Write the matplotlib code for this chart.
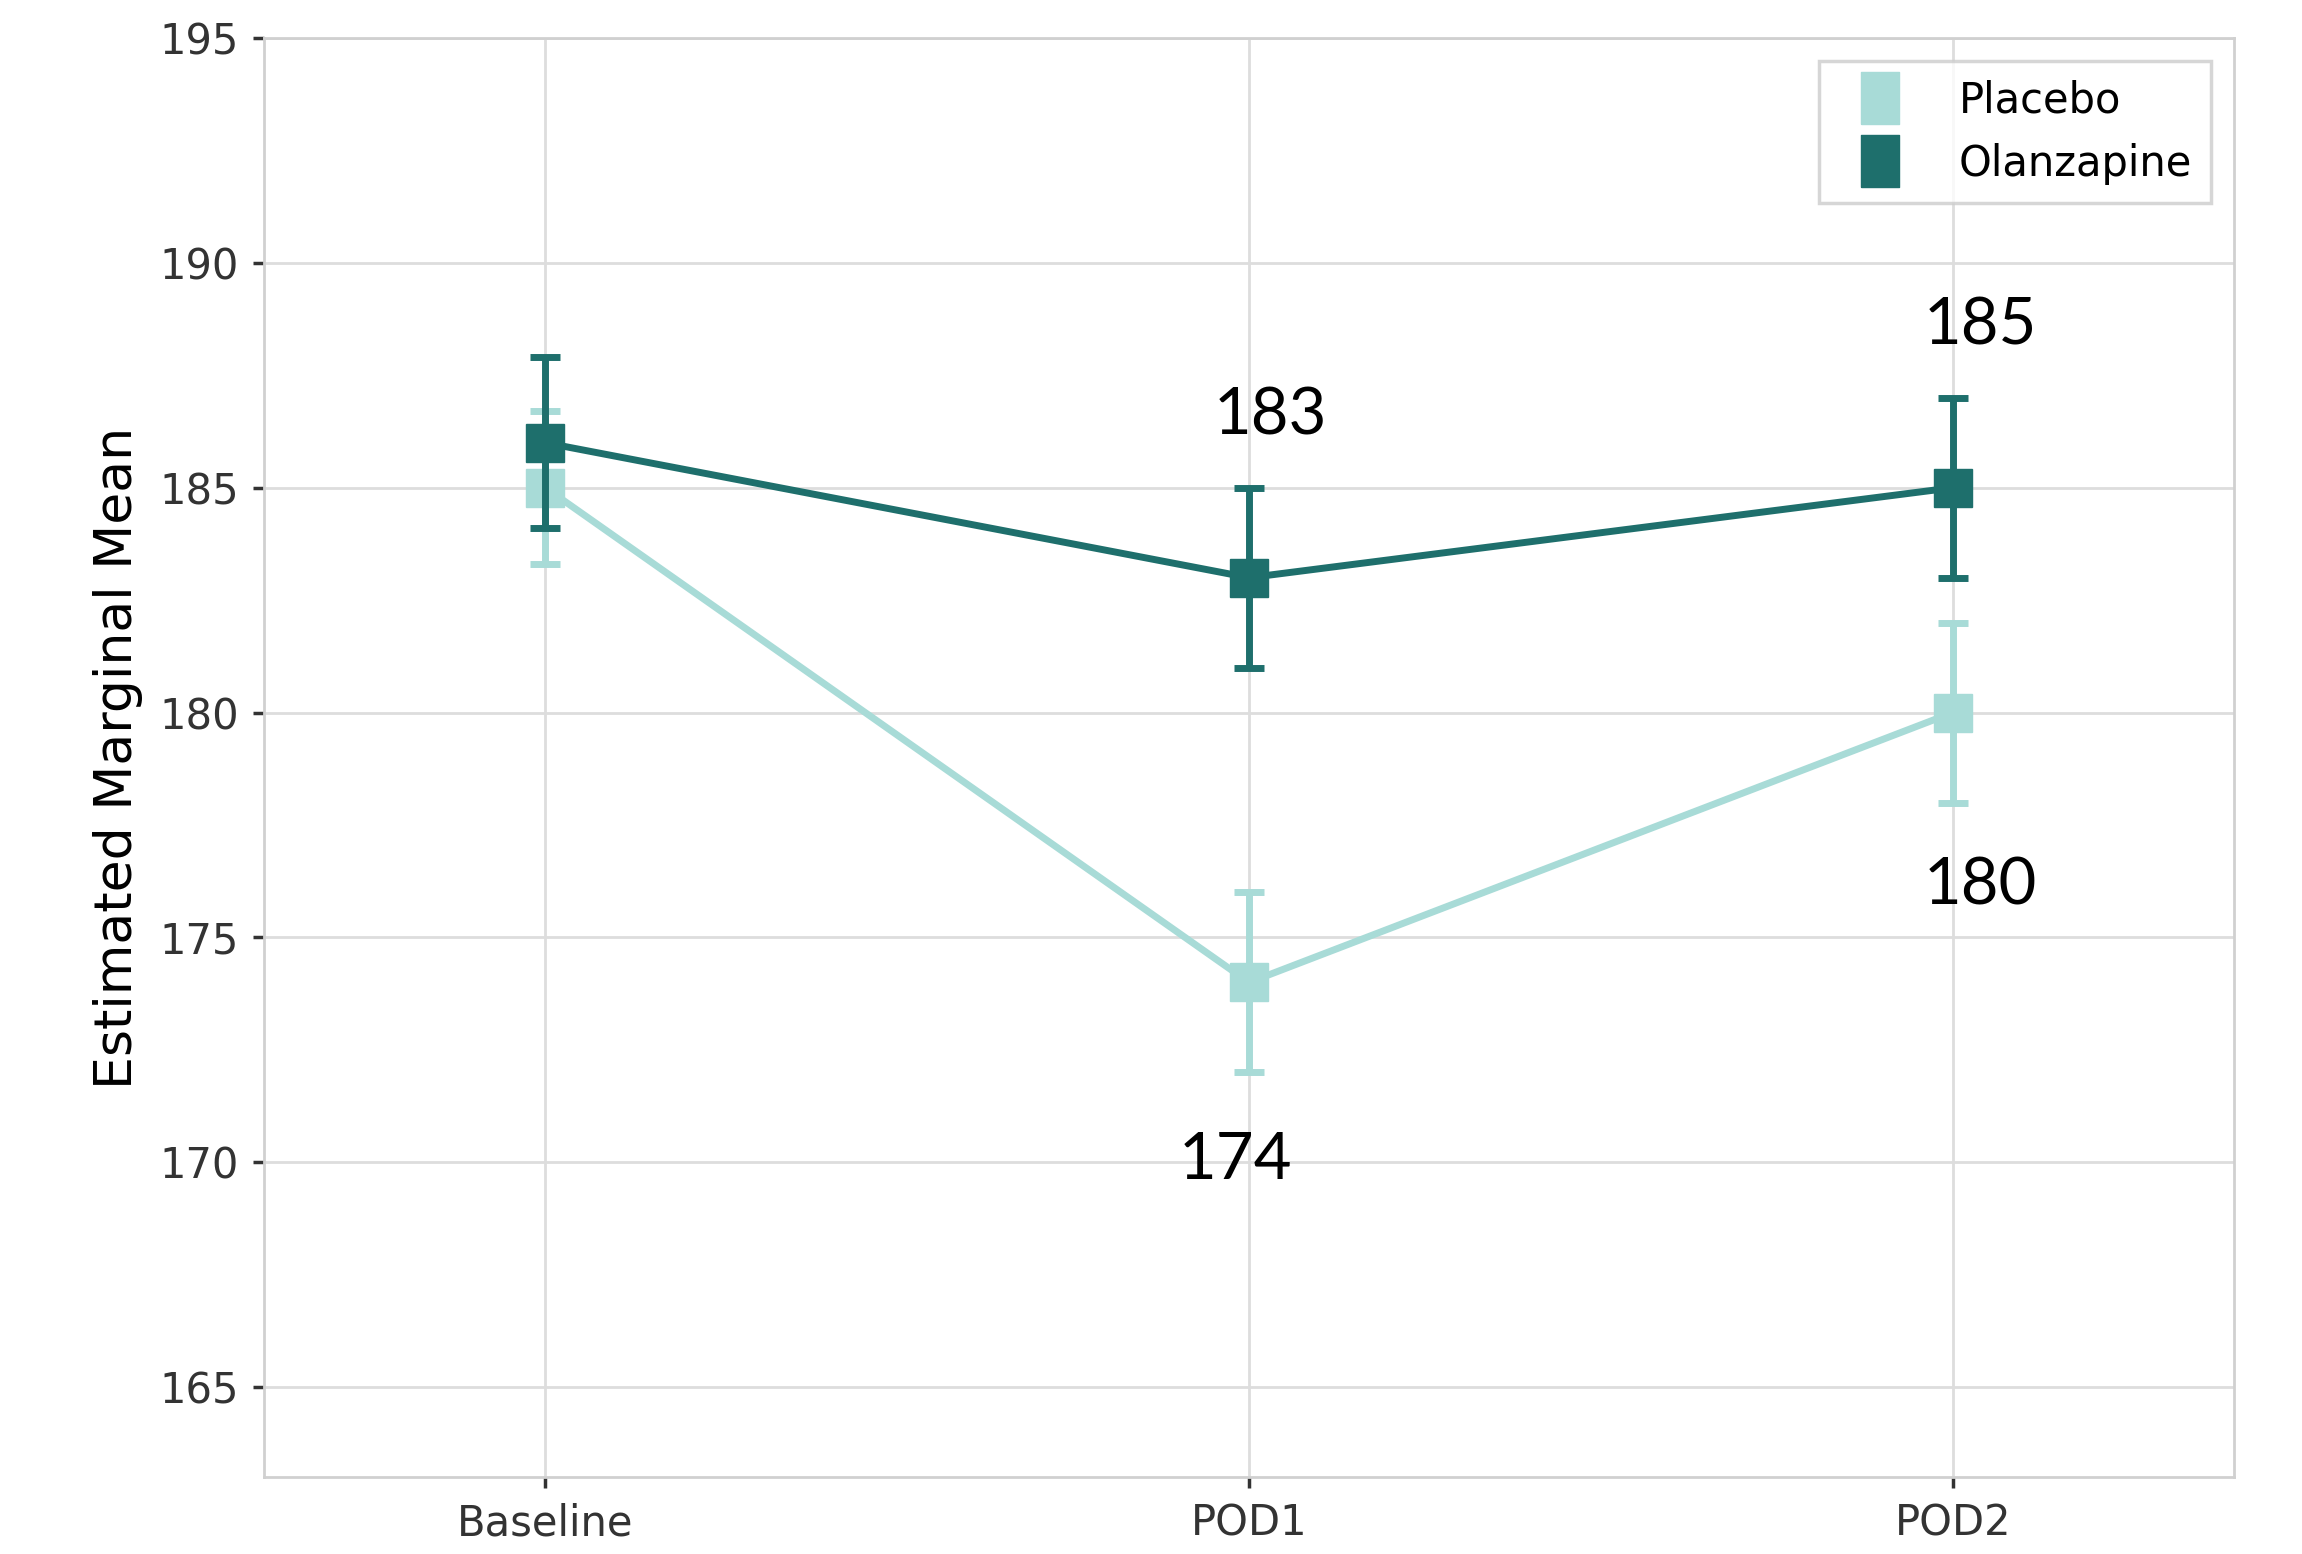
import matplotlib.pyplot as plt
from matplotlib.lines import Line2D
import numpy as np

# data
timepoints = ['Baseline', 'POD1', 'POD2']
placebo = [185, 174, 180]
placebo_err = [1.7, 2, 2]
olanzapine = [186, 183, 185]
olanzapine_err = [1.9, 2, 2]

light = '#a8dbd7'
dark = '#1e6f6c'

fig = plt.figure(figsize=(23.02, 15.54), dpi=100)
ax = fig.add_axes([0.1147, 0.0495, 0.8558, 0.926])

x = np.arange(len(timepoints))
ax.errorbar(x, placebo, yerr=placebo_err, color=light, lw=5, marker='s', ms=27,
            capsize=11, capthick=5, elinewidth=5, label='Placebo', zorder=3)
ax.errorbar(x, olanzapine, yerr=olanzapine_err, color=dark, lw=5, marker='s', ms=27,
            capsize=11, capthick=5, elinewidth=5, label='Olanzapine', zorder=4)

# value labels
ax.text(x[1] + 0.03, olanzapine[1] + 3.6, str(olanzapine[1]), fontsize=47, family='Lato', ha='center', va='center')
ax.text(x[2] + 0.04, olanzapine[2] + 3.6, str(olanzapine[2]), fontsize=47, family='Lato', ha='center', va='center')
ax.text(x[1] - 0.02, placebo[1] - 3.95, str(placebo[1]), fontsize=47, family='Lato', ha='center', va='center')
ax.text(x[2] + 0.04, placebo[2] - 3.85, str(placebo[2]), fontsize=47, family='Lato', ha='center', va='center')

ax.set_xlim(-0.4, 2.4)
ax.set_ylim(163, 195)
ax.set_yticks(np.arange(165, 196, 5))
ax.set_xticks(x)
ax.set_xticklabels(timepoints)
ax.grid(True, color='#dddddd', lw=2)
ax.set_axisbelow(True)
for s in ax.spines.values():
    s.set_color('#d0d0d0')
    s.set_linewidth(2)
ax.tick_params(axis='both', labelsize=30, colors='#333333', length=8, width=2.5, pad=10)
ax.set_ylabel('Estimated Marginal Mean', fontsize=37.5, labelpad=12)

# legend keys: tall square blocks, no line
tall = [(-1, -1.35), (1, -1.35), (1, 1.35), (-1, 1.35), (-1, -1.35)]
handles = [Line2D([], [], color=light, marker=tall, ms=37.5, ls='none'),
           Line2D([], [], color=dark, marker=tall, ms=37.5, ls='none')]
leg = ax.legend(handles, ['Placebo', 'Olanzapine'], loc='upper right', fontsize=30,
                frameon=True, fancybox=False, edgecolor='#cccccc', borderpad=0.45,
                handletextpad=0.9, handlelength=2.0, borderaxespad=0.55)
leg.get_frame().set_linewidth(2.5)

#funtion to save the plot
plt.savefig('out.png', dpi=100)
